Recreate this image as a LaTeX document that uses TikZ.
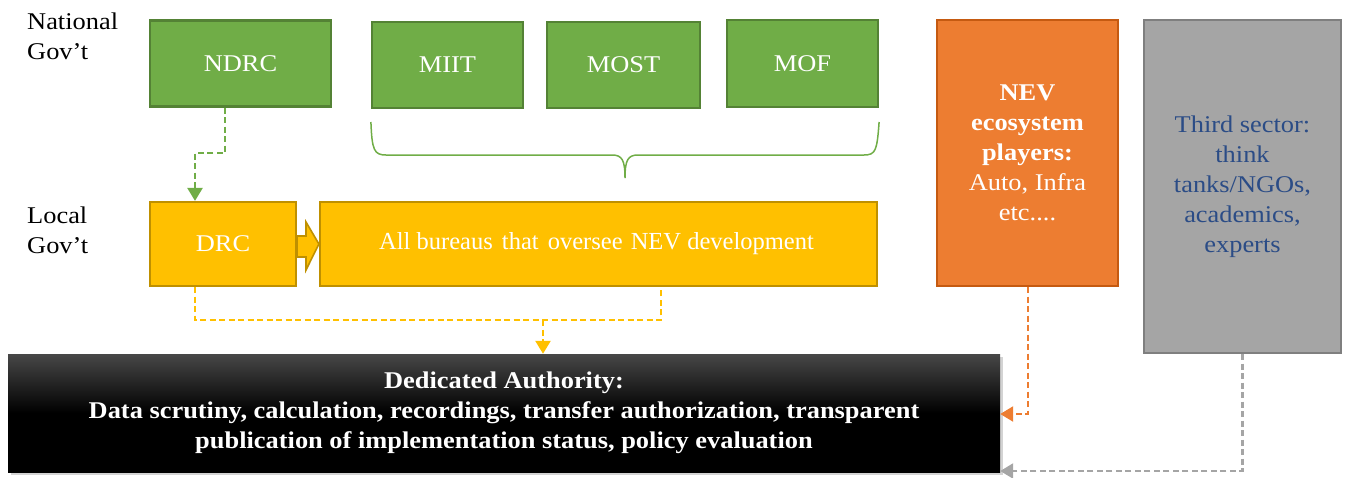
\documentclass[tikz,border=0pt]{standalone}
\usepackage{fontspec}
\setmainfont{Liberation Serif}[FakeStretch=1.1]
\newfontfamily\tnr{Liberation Serif}
\usetikzlibrary{arrows.meta,shadows}
\definecolor{gfill}{HTML}{70AD47}
\definecolor{gline}{HTML}{548235}
\definecolor{yfill}{HTML}{FFC000}
\definecolor{yline}{HTML}{BF9000}
\definecolor{ofill}{HTML}{ED7D31}
\definecolor{oline}{HTML}{C55A11}
\definecolor{afill}{HTML}{A5A5A5}
\definecolor{aline}{HTML}{7F7F7F}
\definecolor{btext}{HTML}{2B4C86}
\definecolor{atop}{HTML}{474747}
\tikzset{
  txt/.style={font=\fontsize{24}{30}\selectfont, inner sep=0pt},
  boxbase/.style={rectangle, line width=2.2pt, inner sep=0pt, align=center, font=\fontsize{24}{30}\selectfont},
  gbox/.style={boxbase, draw=gline, fill=gfill, text=white},
  ybox/.style={boxbase, draw=yline, fill=yfill, text=white},
  obox/.style={boxbase, draw=oline, fill=ofill, text=white},
  abox/.style={boxbase, draw=aline, fill=afill, text=btext},
  authbox/.style={rectangle, inner sep=0pt, align=center, text=white,
    top color=atop, bottom color=black, middle color=black,
    font=\fontsize{24}{30}\selectfont\bfseries,
    drop shadow={shadow xshift=3pt, shadow yshift=-3pt, opacity=0.35}},
  conn/.style={line width=2.4pt, dash pattern=on 6pt off 3.5pt},
  tip/.style={-{Triangle[length=13pt,width=15pt]}}
}
\begin{document}
\begin{tikzpicture}[x=1pt,y=-1pt]
\useasboundingbox (0,0) rectangle (1348,477);
% row labels
\node[txt, anchor=west, align=left] (natl) at (27,36) {National\\Gov’t};
\node[txt, anchor=west, align=left] (locl) at (27,230) {Local\\Gov’t};
% national boxes
\node[gbox, minimum width=181pt, minimum height=86pt] (ndrc) at (240.5,63.5) {NDRC};
\node[gbox, minimum width=151pt, minimum height=86pt] (miit) at (447.5,65) {MIIT};
\node[gbox, minimum width=153pt, minimum height=86pt] (most) at (623.5,65) {MOST};
\node[gbox, minimum width=151pt, minimum height=87pt] (mof) at (802.5,63.5) {MOF};
% brace
\draw[gfill, line width=1.5pt] (miit.south west |- 0,122) .. controls (372,150) and (374,155) .. (386,155)
  -- (612,155) .. controls (622,155) and (625,160) .. (625,178)
  .. controls (625,160) and (628,155) .. (638,155) -- (864,155)
  .. controls (876,155) and (877,150) .. (mof.south east |- 0,122);
% local boxes
\node[ybox, minimum width=146pt, minimum height=84pt] (drc) at (223,244) {DRC};
\node[ybox, minimum width=557pt, minimum height=84pt, font=\fontsize{24.5}{30}\tnr] (allb) at (598.5,244) {All bureaus\hspace{3pt} that\hspace{3pt} oversee\hspace{2pt} NEV development\hspace{4pt}};
% block arrow DRC -> bureaus
\draw[yline, fill=yfill, line width=1.6pt] (drc.east |- 0,236) -- (306,236) -- (306,222) -- (allb.west) -- (306,270) -- (306,257) -- (drc.east |- 0,257) -- cycle;
% side boxes
\node[obox, minimum width=181pt, minimum height=266pt] (nev) at (1027.5,153)
  {\textbf{NEV}\\\textbf{ecosystem}\\\textbf{players:}\\Auto, Infra\\etc....};
\node[abox, minimum width=197pt, minimum height=333pt] (third) at (1242.5,186.5)
  {Third sector:\\think\\tanks/NGOs,\\academics,\\experts};
% dedicated authority
\node[authbox, minimum width=992pt, minimum height=118pt] (auth) at (504,413)
  {Dedicated Authority:\\Data scrutiny, calculation, recordings, transfer authorization, transparent\\publication of implementation status, policy evaluation};
% connectors
\coordinate (k1) at (225,153);
\coordinate (k2) at (195,153);
\draw[conn, gfill, tip] (ndrc.south -| k1) -- (k1) -- (k2) -- (drc.north -| k2);
\coordinate (y1) at (195,320);
\coordinate (y2) at (661,320);
\coordinate (y3) at (543,320);
\draw[conn, yfill] (drc.south -| y1) -- (y1) -- (y2) -- (allb.south -| y2);
\draw[conn, yfill, tip] (y3) -- (auth.north -| y3);
\coordinate (o1) at (1028,414);
\draw[conn, ofill, tip] (nev.south -| o1) -- (o1) -- (auth.east |- o1);
\coordinate (g1) at (1242.5,471);
\draw[conn, afill, tip] (third.south) -- (g1) -- (auth.east |- g1);
\end{tikzpicture}
\end{document}
